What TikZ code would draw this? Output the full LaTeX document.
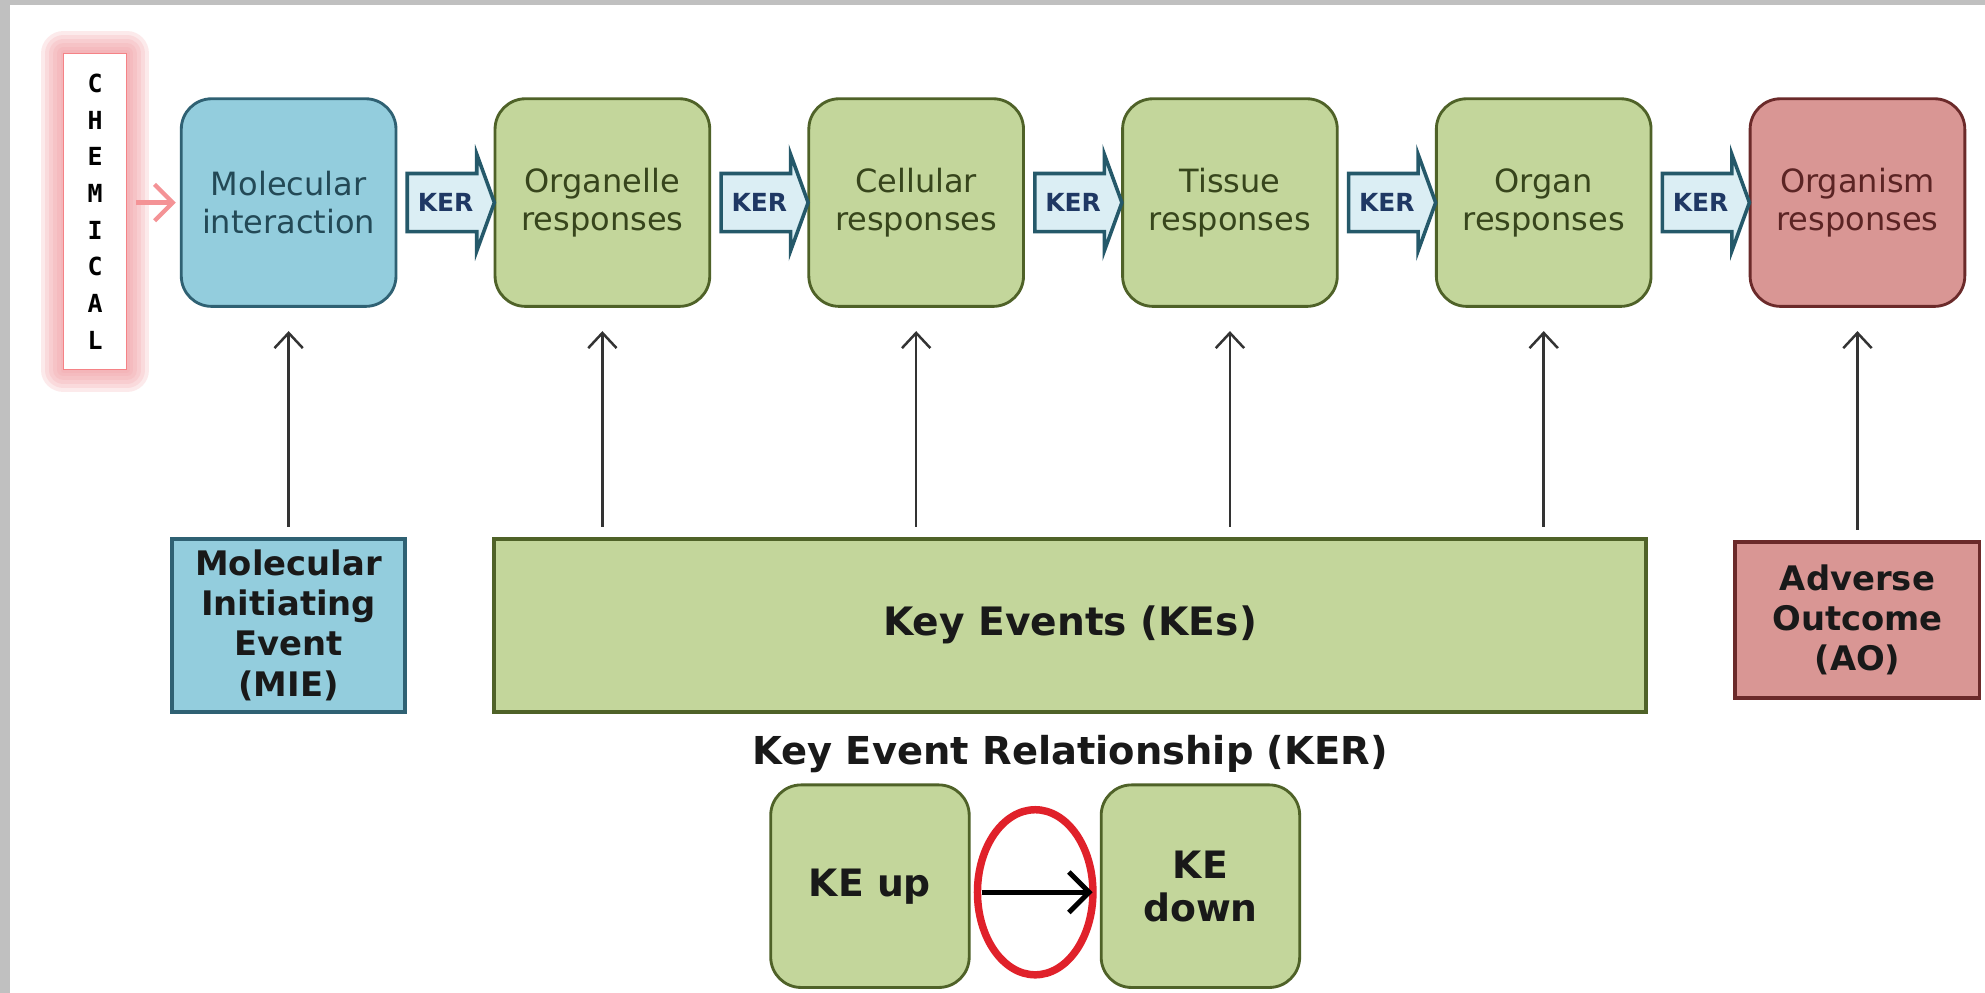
\documentclass[tikz,border=0pt]{standalone}
\usepackage{fontspec}
\setmainfont{DejaVu Sans}
\setsansfont{DejaVu Sans}
\setmonofont{DejaVu Sans Mono}
\usepackage{tikz}
\usetikzlibrary{arrows.meta,calc,positioning,shapes.geometric,shapes.arrows}
\definecolor{aopblue}{HTML}{93CDDD}
\definecolor{aopbluedark}{HTML}{2F6173}
\definecolor{aopgreen}{HTML}{C3D69B}
\definecolor{aopgreendark}{HTML}{4F6228}
\definecolor{aopred}{HTML}{D99694}
\definecolor{aopreddark}{HTML}{6B2A2A}
\definecolor{aopker}{HTML}{DBEEF4}
\definecolor{aopkerdark}{HTML}{25596A}
\definecolor{aopnavy}{HTML}{1F3864}
\definecolor{aopglow}{HTML}{F3A3A7}
\definecolor{aopframe}{HTML}{C0C0C0}
\definecolor{aopring}{HTML}{E0212A}
\definecolor{aopink}{HTML}{333333}
\tikzset{
  level/.style={draw,line width=0.8pt,rounded corners=3mm,minimum width=21.2mm,
    minimum height=20.5mm,align=center,inner sep=1mm,font=\fontsize{9}{10.7}\selectfont},
  mielevel/.style={level,fill=aopblue,draw=aopbluedark,text=aopbluedark!75!black},
  kelevel/.style={level,fill=aopgreen,draw=aopgreendark,text=aopgreendark!70!black},
  aolevel/.style={level,fill=aopred,draw=aopreddark,text=aopreddark!85!black},
  kerarrow/.style={single arrow,draw=aopkerdark,fill=aopker,line width=1pt,text=aopnavy,
    font=\bfseries\fontsize{7}{8}\selectfont,inner xsep=0.5mm,inner ysep=1.8mm,
    single arrow head extend=1.9mm,single arrow tip angle=140,minimum height=8.6mm},
  glow/.style={preaction={draw=aopglow,line width=#1,opacity=.22,line join=round}},
  chembox/.style={fill=white,draw=aopglow!80!red,line width=0.3pt,minimum width=6.25mm,
    minimum height=31.25mm,inner sep=0pt,align=center,
    font=\ttfamily\bfseries\fontsize{7}{10.3}\selectfont,
    glow=4.4mm,glow=3.6mm,glow=2.8mm,glow=2mm,glow=1.2mm,glow=0.6mm},
  chemarrow/.style={-{Straight Barb[length=1.8mm,width=3.6mm]},line width=1.2pt,
    draw=aopglow!90!red,shorten <=0.9mm,shorten >=0.4mm},
  eventbox/.style={draw,line width=1.1pt,align=center,inner sep=0.5mm,text=black!90,
    font=\bfseries\fontsize{9.5}{11.3}\selectfont},
  miebox/.style={eventbox,fill=aopblue,draw=aopbluedark,minimum width=23mm,minimum height=17.1mm},
  kesbox/.style={eventbox,fill=aopgreen,draw=aopgreendark,minimum width=113.75mm,
    minimum height=17.1mm,font=\bfseries\fontsize{11}{13}\selectfont},
  aobox/.style={eventbox,fill=aopred,draw=aopreddark,minimum width=24.1mm,minimum height=15.4mm},
  linkup/.style={-{Straight Barb[length=1.5mm,width=2.8mm]},line width=0.7pt,draw=aopink,
    shorten <=1mm,shorten >=2.3mm},
  keytitle/.style={inner sep=0pt,font=\bfseries\fontsize{10.8}{13}\selectfont,text=black!90},
  kepair/.style={draw=aopgreendark,fill=aopgreen,line width=0.8pt,rounded corners=3mm,
    minimum width=19.6mm,minimum height=20mm,align=center,text=black!90,
    font=\bfseries\fontsize{10.6}{12}\selectfont},
  kerring/.style={ellipse,draw=aopring,line width=2.1pt,minimum width=11.4mm,
    minimum height=16.3mm,inner sep=0pt},
  kearrow/.style={-{Straight Barb[length=2mm,width=4mm]},line width=1.4pt,draw=black,
    shorten <=1.1mm,shorten >=0.7mm}
}
\begin{document}
\begin{tikzpicture}[node distance=9.5mm]
    \path[use as bounding box,fill=white] (0,0) rectangle (196mm,-98mm);
    \fill[aopframe] (0,0) rectangle (1mm,-98mm);
    \fill[aopframe] (0,0) rectangle (196mm,-0.5mm);
    \node[mielevel] (mol) at (28.5mm,-20mm) {Molecular\\interaction};
    \node[kelevel,right=of mol] (orgl) {Organelle\\responses};
    \node[kelevel,right=of orgl] (cell) {Cellular\\responses};
    \node[kelevel,right=of cell] (tiss) {Tissue\\responses};
    \node[kelevel,right=of tiss] (organ) {Organ\\responses};
    \node[aolevel,right=of organ] (orgm) {Organism\\responses};
    \foreach \a/\b in {mol/orgl,orgl/cell,cell/tiss,tiss/organ,organ/orgm}
      \node[kerarrow] (ker\a) at ($(\a.east)!0.5!(\b.west)$) {KER};
    \node[chembox] (chem) at (9.4mm,-20.9mm) {C\\H\\E\\M\\I\\C\\A\\L};
    \draw[chemarrow] (chem.east |- mol.west) -- (mol.west);
    \node[miebox,below=22.6mm of mol] (mie) {Molecular\\Initiating\\Event\\(MIE)};
    \coordinate (kemid) at ($(orgl.south)!0.5!(organ.south)+(-0.3mm,0)$);
    \node[kesbox,below=22.6mm of kemid] (kes) {Key Events (KEs)};
    \node[aobox,below=22.9mm of orgm] (ao) {Adverse\\Outcome\\(AO)};
    \draw[linkup] (mie) -- (mol);
    \foreach \k in {orgl,cell,tiss,organ}
      \draw[linkup] (kes.north -| \k) -- (\k.south);
    \draw[linkup] (ao) -- (orgm);
    \node[keytitle,below=2.1mm of kes] (kertitle) {Key Event Relationship (KER)};
    \node[kepair] (keup) at (85.9mm,-87.5mm) {KE up};
    \node[kepair,right=12.75mm of keup] (kedown) {KE\\down};
    \node[kerring,yshift=-0.6mm] (ring) at ($(keup.east)!0.5!(kedown.west)$) {};
    \draw[kearrow] ([yshift=-0.6mm]keup.east) -- ([yshift=-0.6mm]kedown.west);
  \end{tikzpicture}
\end{document}
